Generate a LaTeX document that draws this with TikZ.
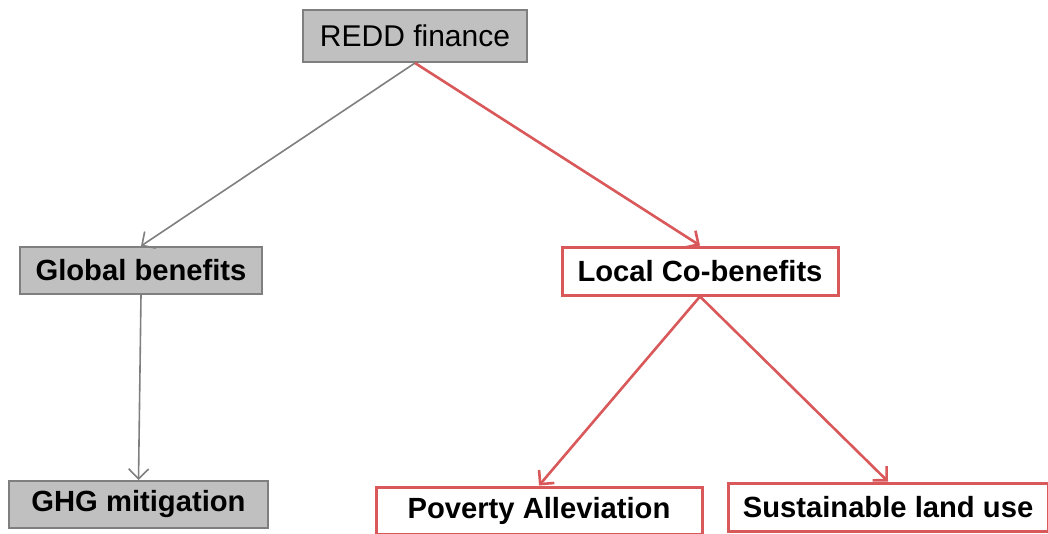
\documentclass[tikz,border=0pt]{standalone}
\usepackage{fontspec}
\setmainfont{Liberation Sans}
\usetikzlibrary{arrows.meta}
\definecolor{boxgray}{HTML}{C0C0C0}
\definecolor{edgegray}{HTML}{7F7F7F}
\definecolor{cored}{HTML}{D9585A}
\tikzstyle{graybox}=[rectangle,draw=edgegray,fill=boxgray,line width=1pt,inner sep=0pt,font=\fontsize{14.6}{17}\selectfont\bfseries]
\tikzstyle{redbox}=[rectangle,draw=cored,fill=white,line width=1.5pt,inner sep=0pt,font=\fontsize{14.6}{17}\selectfont\bfseries]
\tikzstyle{grayarrow}=[draw=edgegray,line width=0.8pt,-{Straight Barb[length=5pt,width=10pt]}]
\tikzstyle{redarrow}=[draw=cored,line width=1.3pt,-{Straight Barb[length=5pt,width=10pt]}]

\begin{document}
\begin{tikzpicture}[x=0.5pt,y=-0.5pt]
		\useasboundingbox (0,0) rectangle (1048,534);
		\node[graybox,minimum width=112pt,minimum height=26pt,font=\fontsize{15}{18}\selectfont] (redd) at (415,36) {REDD finance};
		\node[graybox,minimum width=121pt,minimum height=23.5pt] (global) at (141,270.5) {Global benefits};
		\node[redbox,minimum width=138pt,minimum height=24pt] (local) at (700,271) {Local Co-benefits};
		\node[graybox,minimum width=129.5pt,minimum height=23.5pt] (ghg) at (138.5,504.5) {GHG mitigation};
		\node[redbox,minimum width=163pt,minimum height=23.5pt] (poverty) at (539,510.5) {Poverty Alleviation};
		\node[redbox,minimum width=160pt,minimum height=24pt] (land) at (888,507) {Sustainable land use};
		% arrows between the boxes
		\draw[grayarrow] (redd.south) -- (global.north);
		\draw[redarrow] (redd.south) -- (local.north);
		\draw[grayarrow] (global.south) -- (ghg.north);
		\draw[redarrow] (local.south) -- (poverty.north);
		\draw[redarrow] (local.south) -- (land.north);
\end{tikzpicture}
\end{document}
